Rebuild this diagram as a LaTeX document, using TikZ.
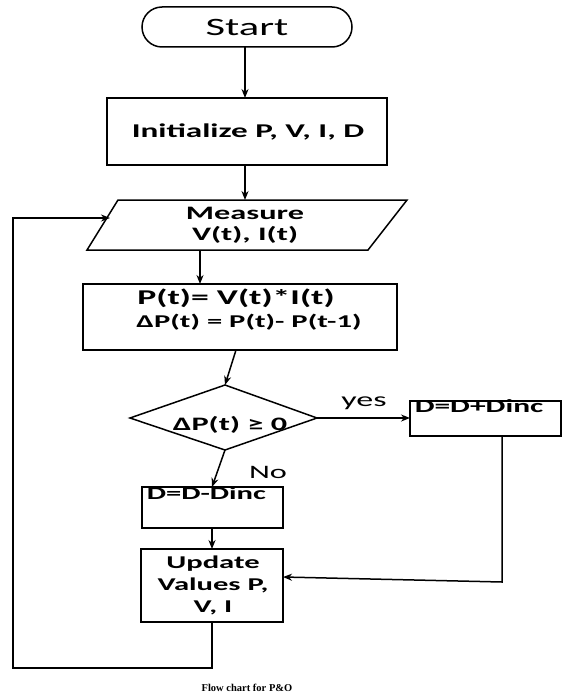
\documentclass[tikz,border=0pt]{standalone}
\usepackage{fontspec}
\setmainfont{Carlito}[FakeStretch=1.7]
\newfontfamily\capfont{Liberation Serif}
\usetikzlibrary{arrows.meta,shapes.geometric,calc}
\begin{document}
\begin{tikzpicture}[x=1pt,y=-1pt,
  line width=1.5pt,
  arr/.style={-{Stealth[length=9pt,width=7pt]}},
  boxlbl/.style={font=\bfseries\fontsize{19}{23}\selectfont},
]
\useasboundingbox (0,0) rectangle (565,695);
% Start
\draw[rounded corners=20pt] (142,7) rectangle (352,47);
\node[font=\fontsize{25}{30}\selectfont] (start) at (247,27) {Start};
\coordinate (startb) at (245,47);
% Init
\draw (107,98) rectangle (387,165);
\coordinate (initt) at (245,98);
\coordinate (initb) at (245,165);
\node[font=\bfseries\fontsize{19.5}{23}\selectfont] (init) at (248,132) {Initialize P, V, I, D};
% Measure parallelogram
\draw (118,200) -- (407,200) -- (368,250) -- (87,250) -- cycle;
\coordinate (meast) at (245,200);
\coordinate (measb) at (200,250);
\coordinate (measl) at (110,218);
\node[boxlbl,align=center] (meas) at (245,225) {Measure\\[-2pt]V(t), I(t)};
% P(t) box
\draw (83,284) rectangle (397,350);
\coordinate (pt) at (200,284);
\coordinate (pb) at (236,350);
\node[font=\bfseries\fontsize{21}{24}\selectfont] (p1) at (236,298) {P(t)= V(t)*I(t)};
\node[font=\bfseries\fontsize{18}{22}\selectfont] (p2) at (249,322) {ΔP(t) = P(t)- P(t-1)};
% Diamond
\draw (225,385) -- (317,418) -- (225,450) -- (130,418) -- cycle;
\coordinate (dt) at (225,385);
\coordinate (dr) at (317,418);
\coordinate (db) at (225,450);
\node[font=\bfseries\fontsize{19}{22}\selectfont] (dtxt) at (230,425) {ΔP(t) ≥ 0};
% D+ box
\draw (410,401) rectangle (561,436);
\coordinate (dpl) at (410,418);
\coordinate (dpb) at (502,436);
\node[font=\bfseries\fontsize{18.5}{22}\selectfont,anchor=north west,inner sep=0pt] (dp) at (414,399) {D=D+Dinc};
\node[font=\fontsize{20}{22}\selectfont] (yes) at (364,403) {yes};
% D- box
\draw (142,487) rectangle (283,528);
\coordinate (dmt) at (212,487);
\coordinate (dmb) at (212,528);
\node[font=\bfseries\fontsize{18}{22}\selectfont,anchor=north west,inner sep=0pt] (dm) at (146,486) {D=D-Dinc};
\node[font=\fontsize{19}{22}\selectfont] (no) at (268,472) {No};
% Update box
\draw (141,549) rectangle (283,622);
\coordinate (upt) at (212,549);
\coordinate (upb) at (212,622);
\coordinate (upr) at (283,577);
\node[font=\bfseries\fontsize{18}{23}\selectfont,align=center] (up) at (213,585) {Update\\[-1pt]Values P,\\[-1pt]V, I};
% corners
\coordinate (c1) at (502,582);
\coordinate (c2) at (212,668);
\coordinate (c3) at (13,668);
\coordinate (c4) at (13,218);
% connectors
\draw[arr] (startb) -- (initt);
\draw[arr] (initb) -- (meast);
\draw[arr] (measb) -- (pt);
\draw[arr] (pb) -- (dt);
\draw[arr] (dr) -- (dpl);
\draw[arr] (db) -- (dmt);
\draw[arr] (dmb) -- (upt);
\draw[arr] (dpb) -- (c1) -- (upr);
\draw[arr] (upb) -- (c2) -- (c3) -- (c4) -- (measl);
% caption
\node[font=\capfont\bfseries\fontsize{10.5}{12}\selectfont] (cap) at (247,688) {Flow chart for P\&O};
\end{tikzpicture}
\end{document}
